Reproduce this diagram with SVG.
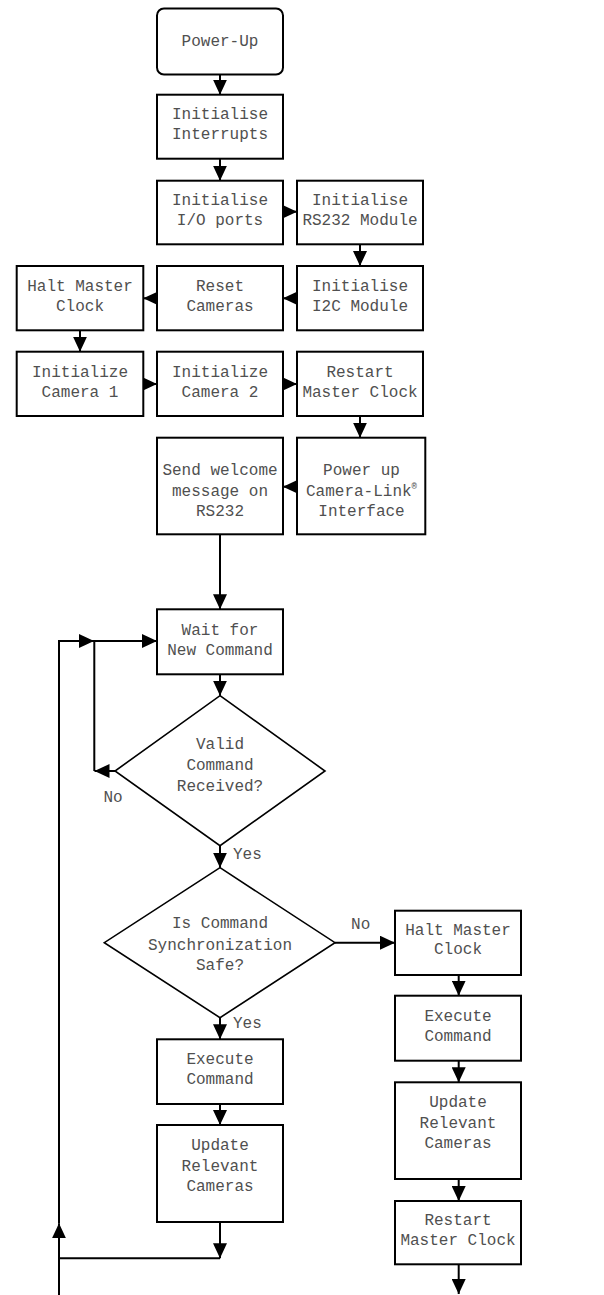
<svg xmlns="http://www.w3.org/2000/svg" width="604" height="1295" viewBox="0 0 604 1295">
<style>
.box{fill:#fff;stroke:#000;stroke-width:2}
.dia{fill:#fff;stroke:#000;stroke-width:1.6}
.t{font-family:"Liberation Mono","Courier New",monospace;font-size:16px;fill:#505050;text-anchor:middle}
.l{font-family:"Liberation Mono","Courier New",monospace;font-size:16px;fill:#505050}
.c{fill:none;stroke:#000;stroke-width:2}
.a{marker-end:url(#ah)}
</style>
<defs>
<marker id="ah" markerUnits="userSpaceOnUse" markerWidth="15" markerHeight="14" refX="15" refY="7" orient="auto">
<path d="M0,0 L15,7 L0,14 z" fill="#000"/>
</marker>
</defs>
<rect width="604" height="1295" fill="#fff"/>
<g id="connectors">
<path class="c a" d="M220,74.7 V94.7"/>
<path class="c a" d="M220,158.7 V180.7"/>
<path class="c a" d="M283,211.7 H297"/>
<path class="c a" d="M360,244.3 V266"/>
<path class="c a" d="M297,298.3 H283"/>
<path class="c a" d="M157,298.3 H143.3"/>
<path class="c a" d="M80,330.3 V351.7"/>
<path class="c a" d="M143.3,384 H157"/>
<path class="c a" d="M283,384 H297"/>
<path class="c a" d="M360,416 V437.7"/>
<path class="c a" d="M297,486.7 H283"/>
<path class="c a" d="M220,534.3 V609.3"/>
<path class="c a" d="M220,674.3 V695.7"/>
<path class="c a" d="M115,771 H94.5"/>
<path class="c a" d="M94.3,771 V641 H157"/>
<path class="c a" d="M220,845.7 V867.7"/>
<path class="c a" d="M335,942.7 H395"/>
<path class="c a" d="M220,1017.7 V1039.3"/>
<path class="c a" d="M220,1104 V1125"/>
<path class="c a" d="M458.7,975 V995.7"/>
<path class="c a" d="M458.7,1060.7 V1082.3"/>
<path class="c a" d="M458.7,1179 V1201"/>
<path class="c a" d="M458.7,1264.3 V1294"/>
<path class="c a" d="M220,1222 V1258.3"/>
<path class="c" d="M220,1258.3 H58"/>
<path class="c a" d="M59,1295 V1223.3"/>
<path class="c a" d="M59,1223.3 V641 H94"/>
</g>
<g id="power-up"><rect class="box" x="157" y="8.5" width="126" height="66" rx="7"/><text class="t" x="220" y="46">Power-Up</text></g>
<g id="init-interrupts"><rect class="box" x="157" y="94.7" width="126" height="64"/><text class="t" x="220" y="119">Initialise</text><text class="t" x="220" y="139">Interrupts</text></g>
<g id="init-io"><rect class="box" x="157" y="180.7" width="126" height="63.6"/><text class="t" x="220" y="205">Initialise</text><text class="t" x="220" y="225">I/O ports</text></g>
<g id="init-rs232"><rect class="box" x="297" y="180.7" width="126" height="63.6"/><text class="t" x="360" y="205">Initialise</text><text class="t" x="360" y="225">RS232 Module</text></g>
<g id="halt-clock-1"><rect class="box" x="16.7" y="266" width="126.6" height="64.3"/><text class="t" x="80" y="291">Halt Master</text><text class="t" x="80" y="311">Clock</text></g>
<g id="reset-cameras"><rect class="box" x="157" y="266" width="126" height="64.3"/><text class="t" x="220" y="291">Reset</text><text class="t" x="220" y="311">Cameras</text></g>
<g id="init-i2c"><rect class="box" x="297" y="266" width="126" height="64.3"/><text class="t" x="360" y="291">Initialise</text><text class="t" x="360" y="311">I2C Module</text></g>
<g id="init-cam1"><rect class="box" x="16.7" y="351.7" width="126.6" height="64.3"/><text class="t" x="80" y="376.5">Initialize</text><text class="t" x="80" y="396.5">Camera 1</text></g>
<g id="init-cam2"><rect class="box" x="157" y="351.7" width="126" height="64.3"/><text class="t" x="220" y="376.5">Initialize</text><text class="t" x="220" y="396.5">Camera 2</text></g>
<g id="restart-clock-1"><rect class="box" x="297" y="351.7" width="126" height="64.3"/><text class="t" x="360" y="376.5">Restart</text><text class="t" x="360" y="396.5">Master Clock</text></g>
<g id="send-welcome"><rect class="box" x="157" y="437.7" width="126" height="96.6"/><text class="t" x="220" y="475">Send welcome</text><text class="t" x="220" y="495.5">message on</text><text class="t" x="220" y="515.5">RS232</text></g>
<g id="power-camlink"><rect class="box" x="297" y="437.7" width="128.3" height="96.6"/><text class="t" x="361.5" y="475">Power up</text><text class="t" x="361.5" y="495.5">Camera-Link<tspan font-size="9" dy="-7">®</tspan></text><text class="t" x="361.5" y="515.5">Interface</text></g>
<g id="wait-command"><rect class="box" x="157" y="609.3" width="126" height="65"/><text class="t" x="220" y="635">Wait for</text><text class="t" x="220" y="655">New Command</text></g>
<g id="valid-command"><polygon class="dia" points="220,695.7 325,771 220,845.7 115,771"/><text class="t" x="220" y="749">Valid</text><text class="t" x="220" y="770">Command</text><text class="t" x="220" y="791">Received?</text></g>
<text class="t" x="113" y="802">No</text>
<text class="l" x="233" y="859">Yes</text>
<g id="sync-safe"><polygon class="dia" points="220,867.7 335,942.7 220,1017.7 104.3,942.7"/><text class="t" x="220" y="928">Is Command</text><text class="t" x="220" y="950">Synchronization</text><text class="t" x="220" y="970">Safe?</text></g>
<text class="t" x="360.7" y="929">No</text>
<text class="l" x="233" y="1028">Yes</text>
<g id="execute-left"><rect class="box" x="157" y="1039.3" width="126" height="64.7"/><text class="t" x="220" y="1064">Execute</text><text class="t" x="220" y="1084">Command</text></g>
<g id="update-left"><rect class="box" x="157" y="1125" width="126" height="97"/><text class="t" x="220" y="1150">Update</text><text class="t" x="220" y="1171">Relevant</text><text class="t" x="220" y="1191">Cameras</text></g>
<g id="halt-clock-2"><rect class="box" x="395" y="910.7" width="126" height="64.3"/><text class="t" x="458" y="935">Halt Master</text><text class="t" x="458" y="954">Clock</text></g>
<g id="execute-right"><rect class="box" x="395" y="995.7" width="126" height="65"/><text class="t" x="458" y="1021">Execute</text><text class="t" x="458" y="1041">Command</text></g>
<g id="update-right"><rect class="box" x="395" y="1082.3" width="126" height="96.7"/><text class="t" x="458" y="1107">Update</text><text class="t" x="458" y="1128">Relevant</text><text class="t" x="458" y="1148">Cameras</text></g>
<g id="restart-clock-2"><rect class="box" x="395" y="1201" width="126" height="63.3"/><text class="t" x="458" y="1225">Restart</text><text class="t" x="458" y="1245">Master Clock</text></g>
</svg>
